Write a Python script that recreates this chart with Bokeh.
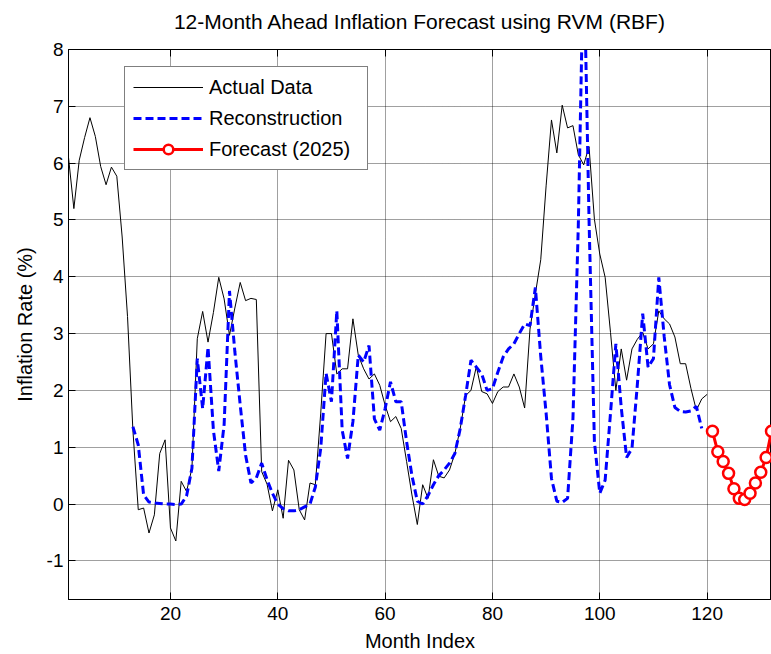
from bokeh.plotting import figure
from bokeh.models import Range1d, LinearAxis, Legend, LegendItem, FixedTicker
from bokeh.embed import file_html
from bokeh.resources import INLINE

# ---------------- data ----------------
actual_months = list(range(1, 121))
actual = [
    6.10, 5.20, 6.05, 6.45, 6.80, 6.47, 5.94, 5.62, 5.93, 5.77,
    4.70, 3.30, 1.30, -0.10, -0.07, -0.51, -0.19, 0.89, 1.13, -0.42,
    -0.65, 0.40, 0.22, 0.63, 2.91, 3.39, 2.85, 3.37, 3.99, 3.61,
    2.97, 3.45, 3.90, 3.58, 3.62, 3.60, 0.57, 0.35, -0.12, 0.25,
    -0.25, 0.77, 0.60, -0.10, -0.28, 0.37, 0.34, 1.60, 3.00, 3.00,
    2.29, 2.38, 2.38, 3.26, 2.62, 2.38, 2.20, 2.29, 2.09, 1.74,
    1.45, 1.54, 1.33, 0.75, 0.16, -0.36, 0.34, 0.10, 0.78, 0.49,
    0.46, 0.60, 0.89, 1.33, 1.91, 2.00, 2.42, 1.98, 1.94, 1.77,
    1.98, 2.06, 2.06, 2.29, 2.06, 1.69, 3.08, 3.70, 4.30, 5.60,
    6.76, 6.18, 7.02, 6.62, 6.66, 6.15, 5.97, 6.29, 5.01, 4.40,
    3.99, 3.02, 2.00, 2.73, 2.18, 2.73, 2.90, 3.02, 2.73, 2.82,
    3.40, 3.26, 3.17, 2.94, 2.47, 2.47, 2.03, 1.65, 1.85, 1.93,
]

recon_months = list(range(13, 120))
recon = [
    1.36, 1.04, 0.16, 0.035, 0.02, 0.01, 0.00, 0.00, -0.01, 0.00,
    0.14, 0.63, 2.56, 1.68, 2.76, 1.30, 0.58, 1.40, 3.75, 2.68,
    1.74, 0.86, 0.37, 0.46, 0.72, 0.43, 0.19, 0.00, -0.08, -0.12,
    -0.12, -0.10, -0.05, 0.00, 0.30, 0.98, 2.30, 1.80, 3.40, 1.30,
    0.80, 1.45, 2.62, 2.50, 2.79, 1.50, 1.30, 1.68, 2.15, 1.80,
    1.80, 1.10, 0.50, 0.05, 0.00, 0.15, 0.34, 0.50, 0.60, 0.72,
    0.89, 1.33, 1.91, 2.53, 2.41, 2.29, 2.00, 2.03, 2.32, 2.59,
    2.73, 2.82, 3.00, 3.17, 3.14, 3.81, 2.60, 1.60, 0.45, 0.05,
    0.03, 0.10, 1.50, 4.90, 9.80, 5.00, 1.10, 0.19, 0.42, 1.60,
    2.82, 1.70, 0.82, 0.98, 2.10, 3.35, 2.41, 2.56, 3.99, 2.95,
    2.10, 1.70, 1.63, 1.62, 1.64, 1.72, 1.33,
]

forecast_months = list(range(121, 133))
forecast = [1.28, 0.92, 0.75, 0.54, 0.27, 0.10, 0.08, 0.19, 0.37, 0.56, 0.82, 1.28]

x_ticks = [20, 40, 60, 80, 100, 120]
y_ticks = [-1, 0, 1, 2, 3, 4, 5, 6, 7, 8]
y_tick_labels = ["-1", "0", "1", "2", "3", "4", "5", "6", "7", "8"]

title_text = "12-Month Ahead Inflation Forecast using RVM (RBF)"
x_label = "Month Index"
y_label = "Inflation Rate (%)"
legend_labels = ["Actual Data", "Reconstruction", "Forecast (2025)"]

FONT = "Liberation Sans"

# ---------------- figure ----------------
p = figure(
    width=771, height=654,
    x_range=Range1d(1, 132), y_range=Range1d(-1.68, 8),
    output_backend="svg", toolbar_location=None,
    min_border_left=68, min_border_right=0,
    min_border_top=49, min_border_bottom=53,
)
p.background_fill_color = "white"
p.border_fill_color = "white"
p.outline_line_color = "black"
p.outline_line_width = 1

def style_axis(ax, ticks):
    ax.ticker = FixedTicker(ticks=ticks)
    ax.axis_line_color = "black"
    ax.axis_line_width = 1
    ax.major_tick_line_color = "black"
    ax.major_tick_in = 7
    ax.major_tick_out = 0
    ax.minor_tick_line_color = None
    ax.major_label_text_font = FONT
    ax.major_label_text_font_size = "19px"
    ax.major_label_text_color = "black"
    ax.axis_label_text_font = FONT
    ax.axis_label_text_font_size = "20px"
    ax.axis_label_text_font_style = "normal"
    ax.axis_label_text_color = "black"

style_axis(p.xaxis[0], x_ticks)
p.xaxis[0].axis_label = x_label
p.xaxis[0].major_label_standoff = 7
p.xaxis[0].axis_label_standoff = 7

style_axis(p.yaxis[0], y_ticks)
p.yaxis[0].axis_label = y_label
p.yaxis[0].major_label_standoff = 5
p.yaxis[0].axis_label_standoff = 8
p.yaxis[0].major_label_overrides = {t: s for t, s in zip(y_ticks, y_tick_labels)}

# box top edge with inward tick marks only; the chart title sits above it
top_axis = LinearAxis()
style_axis(top_axis, x_ticks)
top_axis.major_label_overrides = {t: "" for t in x_ticks}
top_axis.major_label_standoff = 0
top_axis.axis_label = title_text
top_axis.axis_label_text_font_size = "21px"
top_axis.axis_label_standoff = 17
p.add_layout(top_axis, "above")

for g, ticks in ((p.xgrid[0], x_ticks), (p.ygrid[0], y_ticks)):
    g.ticker = FixedTicker(ticks=ticks)
    g.grid_line_color = "#000000"
    g.grid_line_alpha = 0.75
    g.grid_line_dash = "1 1"
    g.grid_line_width = 1

# ---------------- glyphs ----------------
r_actual = p.line(actual_months, actual, line_color="black", line_width=1)
r_recon = p.line(recon_months, recon, line_color="#0000FF", line_width=3, line_dash="8 4")
r_fc_line = p.line(forecast_months, forecast, line_color="#FF0000", line_width=3)
r_fc_pts = p.scatter(forecast_months, forecast, marker="circle", size=11,
                     line_color="#FF0000", line_width=2.5, fill_color="white")

legend = Legend(
    items=[
        LegendItem(label=legend_labels[0], renderers=[r_actual]),
        LegendItem(label=legend_labels[1], renderers=[r_recon]),
        LegendItem(label=legend_labels[2], renderers=[r_fc_line, r_fc_pts]),
    ],
    location=(56, 429),
    margin=0,
    padding=8,
    spacing=7,
    glyph_width=70,
    glyph_height=24,
    label_height=24,
    label_width=150,
    label_standoff=6,
    label_text_font=FONT,
    label_text_font_size="20px",
    label_text_color="black",
    border_line_color="black",
    border_line_width=1,
    background_fill_color="white",
    background_fill_alpha=1.0,
)
p.add_layout(legend, "center")

open("out.html", "w").write(file_html(p, INLINE))
